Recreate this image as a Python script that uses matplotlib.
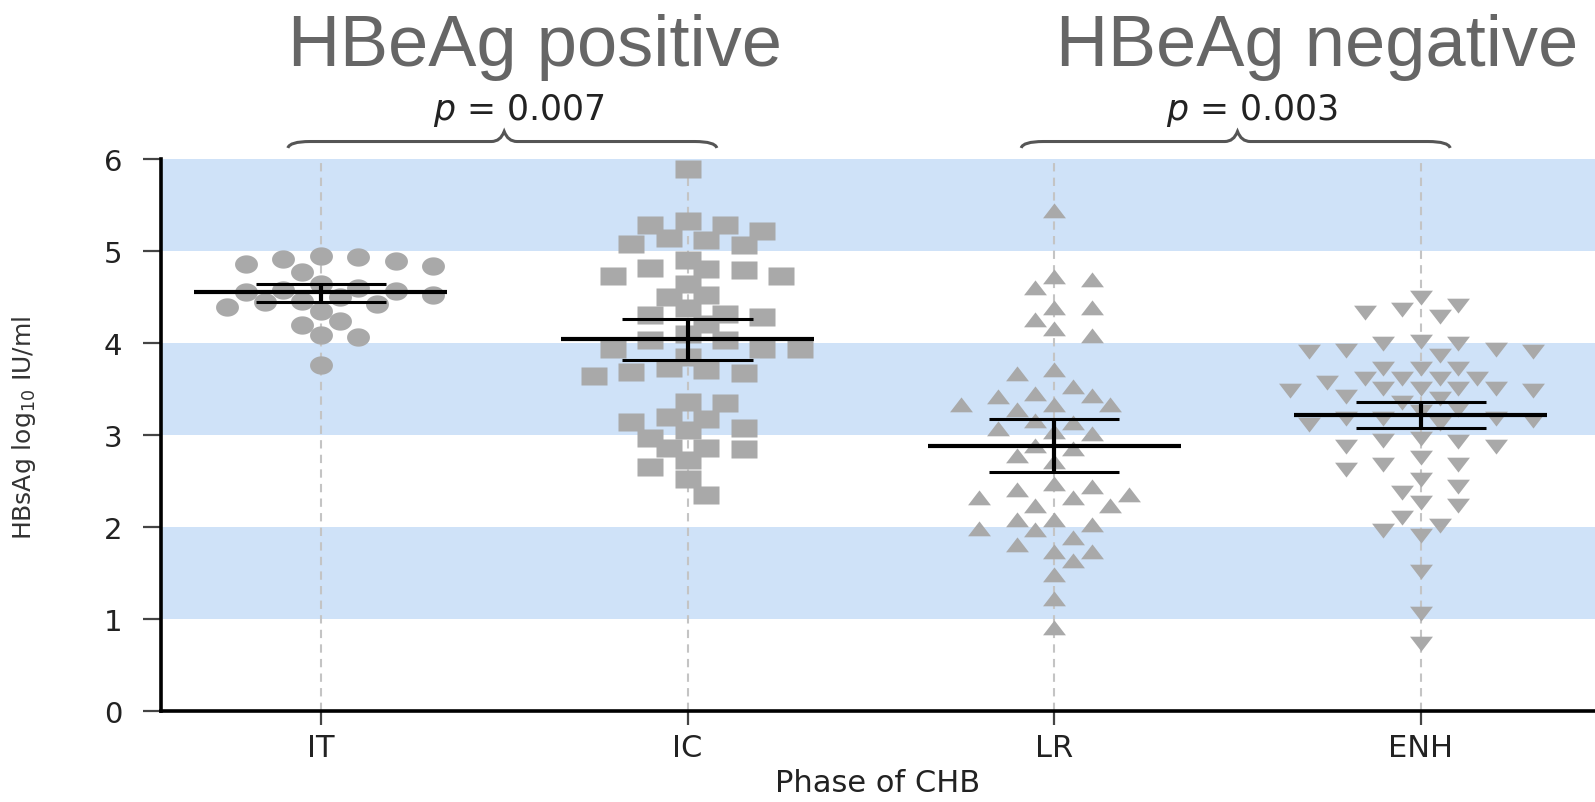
import numpy as np
import matplotlib
matplotlib.use("Agg")
import matplotlib.pyplot as plt
from matplotlib.path import Path
from matplotlib.patches import PathPatch

# ---------------- data ----------------
categories = ["IT", "IC", "LR", "ENH"]

it_vals = [4.95, 4.93, 4.91, 4.89, 4.86, 4.84, 4.77, 4.64, 4.60, 4.58, 4.57, 4.55,
           4.52, 4.50, 4.46, 4.45, 4.42, 4.39, 4.35, 4.24, 4.20, 4.09, 4.07, 3.76]

ic_vals = [5.89, 5.33, 5.28, 5.28, 5.22, 5.14, 5.12, 5.08, 5.07, 4.90, 4.81, 4.80,
           4.79, 4.73, 4.73, 4.64, 4.52, 4.50, 4.38, 4.32, 4.30, 4.28, 4.21, 4.10,
           4.03, 4.03, 3.94, 3.94, 3.94, 3.85, 3.73, 3.71, 3.69, 3.67, 3.64, 3.36,
           3.35, 3.20, 3.17, 3.14, 3.08, 3.05, 2.97, 2.86, 2.86, 2.85, 2.73, 2.65,
           2.52, 2.35]

lr_vals = [5.41, 4.70, 4.66, 4.58, 4.36, 4.36, 4.23, 4.13, 4.05, 3.69, 3.64, 3.50,
           3.42, 3.40, 3.39, 3.30, 3.30, 3.30, 3.25, 3.13, 3.11, 3.04, 3.01, 2.99,
           2.86, 2.83, 2.75, 2.68, 2.45, 2.41, 2.38, 2.33, 2.29, 2.29, 2.21, 2.21,
           2.05, 2.05, 2.00, 1.96, 1.95, 1.86, 1.78, 1.71, 1.71, 1.61, 1.46, 1.20,
           0.88]

enh_vals = [4.52, 4.43, 4.39, 4.36, 4.32, 4.04, 4.02, 4.02, 3.96, 3.95, 3.93, 3.93,
            3.89, 3.75, 3.75, 3.75, 3.64, 3.64, 3.64, 3.64, 3.60, 3.53, 3.53, 3.53,
            3.53, 3.51, 3.51, 3.45, 3.42, 3.38, 3.30, 3.28, 3.21, 3.21, 3.21, 3.19,
            3.15, 3.14, 2.99, 2.97, 2.96, 2.90, 2.90, 2.78, 2.71, 2.71, 2.65, 2.54,
            2.47, 2.40, 2.29, 2.26, 2.13, 2.04, 1.99, 1.93, 1.54, 1.09, 0.76]

means = [4.55, 4.04, 2.88, 3.22]
sem_low = [4.45, 3.82, 2.60, 3.08]
sem_high = [4.64, 4.26, 3.17, 3.36]

yticks = [0, 1, 2, 3, 4, 5, 6]
band_ranges = [(1, 2), (3, 4), (5, 6)]
group_titles = ["HBeAg positive", "HBeAg negative"]
group_pairs = [(0, 1), (2, 3)]
p_values = ["0.007", "0.003"]
xlabel = "Phase of CHB"
ylabel = "HBsAg log$_{10}$ IU/ml"

# ---------------- styling ----------------
W, H = 1595, 803
DPI = 100
fig = plt.figure(figsize=(W / DPI, H / DPI), dpi=DPI)
plt.rcParams["mathtext.fontset"] = "dejavusans"

ax_left_px, ax_right_px = 161, 1595
ax_top_px, ax_bot_px = 160, 712
ax = fig.add_axes([ax_left_px / W, 1 - ax_bot_px / H,
                   (ax_right_px - ax_left_px) / W, (ax_bot_px - ax_top_px) / H])
xlim = (-0.436, 3.475)
ylim = (0, 6)
ax.set_xlim(*xlim)
ax.set_ylim(*ylim)
ax.patch.set_facecolor("white")

px_per_x = (ax_right_px - ax_left_px) / (xlim[1] - xlim[0])
px_per_y = (ax_bot_px - ax_top_px) / (ylim[1] - ylim[0])

band_color = "#cfe2f8"
for lo, hi in band_ranges:
    ax.axhspan(lo, hi, color=band_color, zorder=0, lw=0)

for i in range(len(categories)):
    ax.axvline(i, color="#c4c4c4", lw=1.5, ls=(0, (4, 3)), zorder=1)


def swarm_offsets(vals, half_px=18.7, h_px=19.0):
    """Collision based dot-plot layout on half-step columns (returns data-unit offsets)."""
    vals = np.asarray(vals, float)
    order = np.argsort(-vals)
    placed = []
    offs = np.zeros(len(vals))
    side = 1
    for idx in order:
        y = vals[idx] * px_per_y
        chosen = None
        for k in range(0, 40):
            cands = [0] if k == 0 else [k * side, -k * side]
            for c in cands:
                x = c * half_px
                ok = True
                for (px, py) in placed:
                    if abs(x - px) / (2 * half_px) + abs(y - py) / h_px < 0.97:
                        ok = False
                        break
                if ok:
                    chosen = x
                    break
            if chosen is not None:
                break
        if chosen != 0:
            side = -side
        placed.append((chosen, y))
        offs[idx] = chosen / px_per_x
    return offs


t = np.linspace(0, 2 * np.pi, 40)
ell = list(zip(1.25 * np.cos(t), np.sin(t)))
rect = [(-1.4, -1), (1.4, -1), (1.4, 1), (-1.4, 1), (-1.4, -1)]
tri_up = [(-1, -0.42), (1, -0.42), (0, 0.88), (-1, -0.42)]
tri_dn = [(-1, 0.42), (1, 0.42), (0, -0.88), (-1, 0.42)]

series = [it_vals, ic_vals, lr_vals, enh_vals]
markers = [ell, rect, tri_up, tri_dn]
msizes = [16.5, 18.5, 16.5, 16.5]
pt_color = "#a9a9a9"
for i, (vals, mk, ms) in enumerate(zip(series, markers, msizes)):
    offs = swarm_offsets(vals)
    ax.plot(i + offs, vals, ls="none", marker=mk, ms=ms, mfc=pt_color,
            mec="none", zorder=2)

# mean and SEM
for i in range(len(categories)):
    ax.hlines(means[i], i - 0.345, i + 0.345, color="black", lw=3.0, zorder=4)
    ax.vlines(i, sem_low[i], sem_high[i], color="black", lw=3.0, zorder=4)
    ax.hlines([sem_low[i], sem_high[i]], i - 0.178, i + 0.178, color="black",
              lw=2.2, zorder=4)

# axes styling
for s in ["top", "right"]:
    ax.spines[s].set_visible(False)
for s in ["left", "bottom"]:
    ax.spines[s].set_linewidth(2.6)
    ax.spines[s].set_color("black")

ax.set_yticks(yticks)
ax.set_yticklabels([str(v) for v in yticks], fontsize=21, color="#222222",
                   family="DejaVu Sans")
ax.tick_params(axis="y", direction="out", length=13, width=1.6, pad=15,
               colors="#444444", labelcolor="#222222")
ax.set_xticks(range(len(categories)))
ax.set_xticklabels(categories, fontsize=22, color="#222222", family="DejaVu Sans")
ax.tick_params(axis="x", direction="out", length=10, width=1.6, pad=6,
               colors="#444444", labelcolor="#222222")

ax.set_xlabel(xlabel, fontsize=22, color="#222222", family="DejaVu Sans", labelpad=4)
ax.set_ylabel(ylabel, fontsize=18, color="#333333", family="DejaVu Sans")
ax.yaxis.set_label_coords((38 - ax_left_px) / (ax_right_px - ax_left_px), 0.514)

# braces + p values
brace_y = 6.19
for (a, b), pv in zip(group_pairs, p_values):
    x0, x1 = a - 0.09, b + 0.08
    xm = (a + b) / 2
    verts = [(x0, 6.12), (x0 + 0.005, brace_y), (x0 + 0.06, brace_y),
             (xm - 0.035, brace_y),
             (xm - 0.01, brace_y), (xm, 6.30),
             (xm + 0.01, brace_y), (xm + 0.035, brace_y),
             (x1 - 0.06, brace_y),
             (x1 - 0.005, brace_y), (x1, 6.12)]
    codes = [Path.MOVETO, Path.CURVE3, Path.CURVE3, Path.LINETO,
             Path.CURVE3, Path.CURVE3, Path.CURVE3, Path.CURVE3,
             Path.LINETO, Path.CURVE3, Path.CURVE3]
    patch = PathPatch(Path(verts, codes), fill=False, ec="#555555", lw=2.2,
                      clip_on=False, zorder=5)
    ax.add_patch(patch)
    ax.text(xm + 0.04, 6.54, r"$\mathit{p}$ = " + pv, ha="center", va="center",
            fontsize=25, color="#222222", family="DejaVu Sans", clip_on=False)

# group titles
title_x_px = [535, 1317]
for title, xp in zip(group_titles, title_x_px):
    fig.text(xp / W, 1 - 66 / H, title, ha="center", va="baseline", fontsize=52,
             color="#666666", family="Liberation Sans")

fig.savefig("out.png", dpi=DPI)
